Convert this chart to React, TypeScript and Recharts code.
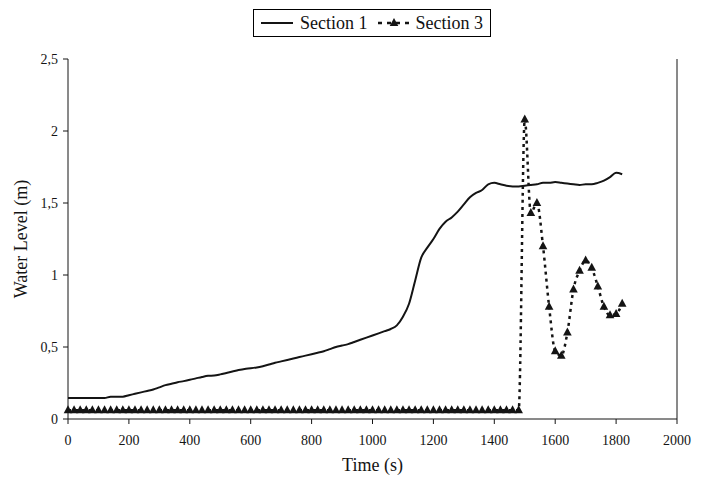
import React from 'react'
import { LineChart, Line, XAxis, YAxis, ReferenceLine } from 'recharts'

// time steps (s), one value every 20 s
const times = [
  0, 20, 40, 60, 80, 100, 120, 140, 160, 180,
  200, 220, 240, 260, 280, 300, 320, 340, 360, 380,
  400, 420, 440, 460, 480, 500, 520, 540, 560, 580,
  600, 620, 640, 660, 680, 700, 720, 740, 760, 780,
  800, 820, 840, 860, 880, 900, 920, 940, 960, 980,
  1000, 1020, 1040, 1060, 1080, 1100, 1120, 1140, 1160, 1180,
  1200, 1220, 1240, 1260, 1280, 1300, 1320, 1340, 1360, 1380,
  1400, 1420, 1440, 1460, 1480, 1500, 1520, 1540, 1560, 1580,
  1600, 1620, 1640, 1660, 1680, 1700, 1720, 1740, 1760, 1780,
  1800, 1820,
]

const section1 = [
  0.145, 0.145, 0.145, 0.145, 0.145, 0.145, 0.145, 0.155, 0.155, 0.155,
  0.165, 0.175, 0.185, 0.195, 0.205, 0.22, 0.235, 0.245, 0.255, 0.263,
  0.272, 0.282, 0.292, 0.3, 0.302, 0.31, 0.32, 0.33, 0.34, 0.348,
  0.352, 0.358, 0.367, 0.378, 0.39, 0.4, 0.41, 0.42, 0.43, 0.44,
  0.45, 0.46, 0.47, 0.485, 0.5, 0.51, 0.52, 0.535, 0.55, 0.565,
  0.58, 0.595, 0.61, 0.625, 0.65, 0.71, 0.8, 0.96, 1.12, 1.19,
  1.25, 1.32, 1.37, 1.4, 1.44, 1.49, 1.54, 1.57, 1.59, 1.63,
  1.64, 1.63, 1.62, 1.615, 1.615, 1.62, 1.625, 1.63, 1.64, 1.64,
  1.645, 1.64, 1.635, 1.63, 1.625, 1.63, 1.63, 1.64, 1.655, 1.68,
  1.71, 1.7,
]

const section3 = [
  0.06, 0.06, 0.06, 0.06, 0.06, 0.06, 0.06, 0.06, 0.06, 0.06,
  0.06, 0.06, 0.06, 0.06, 0.06, 0.06, 0.06, 0.06, 0.06, 0.06,
  0.06, 0.06, 0.06, 0.06, 0.06, 0.06, 0.06, 0.06, 0.06, 0.06,
  0.06, 0.06, 0.06, 0.06, 0.06, 0.06, 0.06, 0.06, 0.06, 0.06,
  0.06, 0.06, 0.06, 0.06, 0.06, 0.06, 0.06, 0.06, 0.06, 0.06,
  0.06, 0.06, 0.06, 0.06, 0.06, 0.06, 0.06, 0.06, 0.06, 0.06,
  0.06, 0.06, 0.06, 0.06, 0.06, 0.06, 0.06, 0.06, 0.06, 0.06,
  0.06, 0.06, 0.06, 0.06, 0.06, 2.08, 1.43, 1.5, 1.2, 0.78,
  0.47, 0.44, 0.6, 0.9, 1.03, 1.1, 1.05, 0.92, 0.78, 0.72,
  0.73, 0.8,
]

const xTicks = [0, 200, 400, 600, 800, 1000, 1200, 1400, 1600, 1800, 2000]
const yTicks = [0, 0.5, 1, 1.5, 2, 2.5]

const FONT = '"Liberation Serif", "Times New Roman", serif'
const INK = '#141414'

const chartData = times.map((t, i) => ({ t, s1: section1[i], s3: section3[i] }))

function Triangle(props: { cx?: number; cy?: number; index?: number }): React.ReactElement | null {
  const { cx, cy, index } = props
  if (cx == null || cy == null) return null
  return (
    <path
      key={`tri-${index}`}
      d={`M${cx},${cy - 5} L${cx + 4.3},${cy + 3} L${cx - 4.3},${cy + 3} Z`}
      fill={INK}
      stroke="none"
    />
  )
}

function ChartLegend(): React.ReactElement {
  return (
    <div
      style={{
        position: 'absolute', left: 253, top: 9, width: 238, height: 28,
        border: '1px solid #000', display: 'flex', alignItems: 'center',
        fontFamily: FONT, fontSize: 18, color: '#111', boxSizing: 'border-box',
      }}
    >
      <svg width={44} height={20} style={{ marginLeft: 2 }}>
        <line x1={5} x2={37} y1={10} y2={10} stroke={INK} strokeWidth={2} />
      </svg>
      <span>Section 1</span>
      <svg width={44} height={20} style={{ marginLeft: 4 }}>
        <line x1={6} x2={38} y1={10} y2={10} stroke={INK} strokeWidth={2.5} strokeDasharray="4 5" />
        <path d="M22,5 L26.3,13 L17.7,13 Z" fill={INK} />
      </svg>
      <span>Section 3</span>
    </div>
  )
}

export default function App(): React.ReactElement {
  return (
    <div style={{ position: 'absolute', left: 0, top: 0, width: 707, height: 479, background: '#fff' }}>
      <LineChart
        width={707}
        height={479}
        data={chartData}
        margin={{ top: 59, right: 30, bottom: 0, left: 0 }}
      >
        <XAxis
          dataKey="t"
          type="number"
          domain={[0, 2000]}
          ticks={xTicks}
          interval={0}
          height={60}
          stroke={INK}
          tickSize={5}
          tickMargin={11}
          tick={{ fill: INK, fontSize: 14, fontFamily: FONT }}
          label={{ value: 'Time (s)', position: 'insideBottom', offset: 8, style: { fill: INK, fontSize: 18, fontFamily: FONT } }}
        />
        <YAxis
          type="number"
          domain={[0, 2.5]}
          ticks={yTicks}
          interval={0}
          width={68}
          stroke={INK}
          tickSize={5}
          tickMargin={5}
          tickFormatter={(v: number) => String(v).replace('.', ',')}
          tick={{ fill: INK, fontSize: 14, fontFamily: FONT }}
          label={{ value: 'Water Level (m)', angle: -90, position: 'insideLeft', offset: 21, style: { fill: INK, fontSize: 18, fontFamily: FONT, textAnchor: 'middle' } }}
        />
        <ReferenceLine x={2000} stroke={INK} strokeWidth={1} />
        <Line
          dataKey="s1"
          type="monotone"
          stroke={INK}
          strokeWidth={2}
          dot={false}
          activeDot={false}
          isAnimationActive={false}
        />
        <Line
          dataKey="s3"
          type="monotone"
          stroke={INK}
          strokeWidth={2.5}
          strokeDasharray="3 4"
          dot={<Triangle />}
          activeDot={false}
          isAnimationActive={false}
        />
      </LineChart>
      <ChartLegend />
    </div>
  )
}
